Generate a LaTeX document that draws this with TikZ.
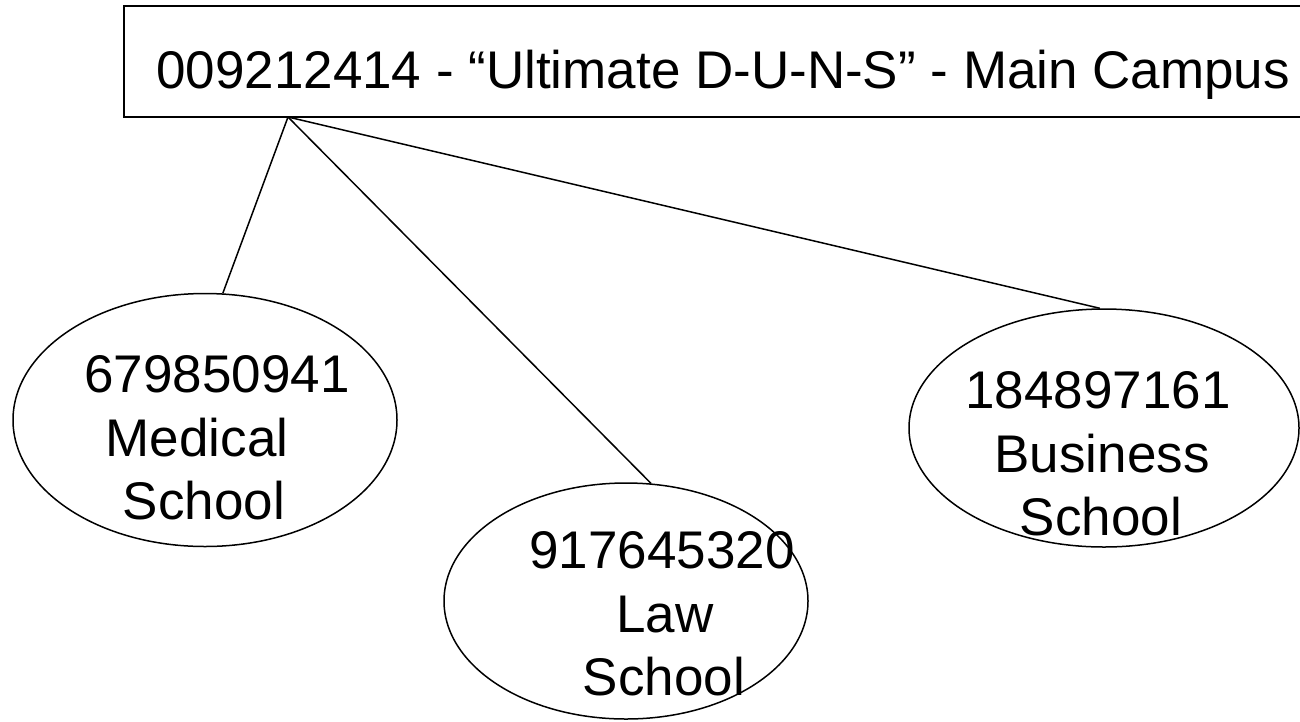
\documentclass[tikz,border=0pt]{standalone}
\usepackage{fontspec}
\setmainfont{Liberation Sans}
\usetikzlibrary{shapes.geometric}
\begin{document}
\begin{tikzpicture}[x=1pt,y=-1pt,
  box/.style={draw=black,line width=1.8pt,rectangle,inner sep=0pt,anchor=north west},
  oval/.style={draw=black,line width=1.5pt,ellipse,inner sep=0pt},
  lbl/.style={anchor=base,inner sep=0pt,font=\fontsize{53}{63}\selectfont},
  link/.style={draw=black,line width=1.5pt}]
\useasboundingbox (0,0) rectangle (1300,721);
\clip (0,0) rectangle (1300,721);
\fill[white] (0,0) rectangle (1300,721);
% root box
\node[box,minimum width=1200pt,minimum height=111pt] (main) at (123,5) {};
\node[lbl,anchor=base west] (maintxt) at (156,88) {009212414 - “Ultimate D-U-N-S” - Main Campus};
\coordinate (hub) at (288,117);
% ellipses
\node[oval,minimum width=384pt,minimum height=253pt] (med) at (205,420) {};
\node[oval,minimum width=364pt,minimum height=236pt] (law) at (626,601) {};
\node[oval,minimum width=390pt,minimum height=238pt] (bus) at (1104,428) {};
% texts
\node[lbl] (med1) at (217,392) {679850941};
\node[lbl] (med2) at (197,456) {Medical};
\node[lbl] (med3) at (204,519) {School};
\node[lbl] (law1) at (662,568) {917645320};
\node[lbl] (law2) at (665,632) {Law};
\node[lbl] (law3) at (664,695) {School};
\node[lbl] (bus1) at (1098,408) {184897161};
\node[lbl] (bus2) at (1102,472) {Business};
\node[lbl] (bus3) at (1101,535) {School};
% connectors
\draw[link] (hub) -- (med.82);
\draw[link] (hub) -- (law.78);
\draw[link] (hub) -- (bus.92);
\end{tikzpicture}
\end{document}
